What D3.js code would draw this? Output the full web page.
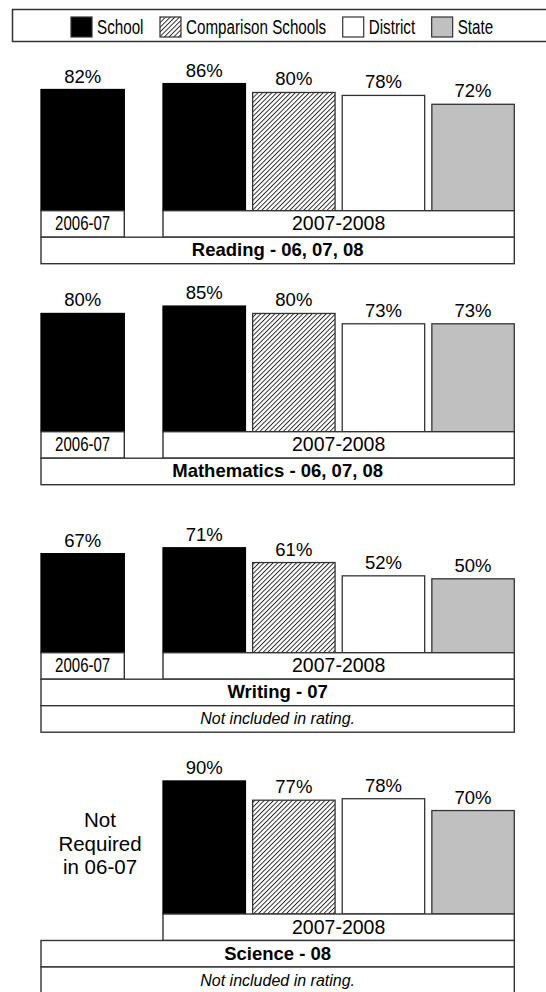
<!DOCTYPE html>
<html>
<head>
<meta charset="utf-8">
<script src="https://cdn.jsdelivr.net/npm/d3@7"></script>
<style>
    body { margin: 0; background: #fff; }
    text { font-family: "Liberation Sans", Arial, sans-serif; fill: #000; }
</style>
</head>
<body>
<script>
// Données
const seriesNames = ["School", "Comparison Schools", "District", "State"];
const subjects = ["Reading - 06, 07, 08", "Mathematics - 06, 07, 08", "Writing - 07", "Science - 08"];
const prior = [82, 80, 67, null];          // School 2006-07
const school = [86, 85, 71, 90];
const comparison = [80, 80, 61, 77];
const district = [78, 73, 52, 78];
const state = [72, 73, 50, 70];
const notes = [null, null, "Not included in rating.", "Not included in rating."];
const yearLabels = ["2006-07", "2007-2008"];
const notRequired = ["Not", "Required", "in 06-07"];

// Mise en page
const width = 546, height = 992;
const baselines = [210.7, 431.7, 652.7, 914];
const rowH = 26.5;
const lineColor = "#333";
const fills = { "School": "#000", "Comparison Schools": "url(#hatch)", "District": "#fff", "State": "#c0c0c0" };

const svg = d3.select('body').append('svg')
    .attr('width', width)
    .attr('height', height);

// Motif hachuré
const hs = 3.3;
const pattern = svg.append('defs').append('pattern')
    .attr('id', 'hatch')
    .attr('patternUnits', 'userSpaceOnUse')
    .attr('width', hs)
    .attr('height', hs)
    .attr('patternTransform', 'rotate(45)');
pattern.append('rect').attr('width', hs).attr('height', hs).attr('fill', '#fff');
pattern.append('line')
    .attr('x1', 0.5).attr('y1', 0).attr('x2', 0.5).attr('y2', hs)
    .attr('stroke', '#000').attr('stroke-width', 0.8);

// Compresser horizontalement un texte, renvoie la largeur finale
function squeeze(sel, f) {
    let w = 0;
    sel.each(function() {
        w = this.getComputedTextLength() * f;
        d3.select(this).attr('textLength', w).attr('lengthAdjust', 'spacingAndGlyphs');
    });
    return w;
}

// Échelles X
const x06 = d3.scaleBand().domain([yearLabels[0]]).range([41, 124.3]).padding(0);
const x07 = d3.scaleBand().domain(seriesNames).range([163, 514.3]).paddingInner(0.08).paddingOuter(0);
const left = x06.range()[0], right = x07.range()[1];

// Légende
const legend = svg.append('g');
legend.append('rect')
    .attr('x', 12.5).attr('y', 9.5)
    .attr('width', 545).attr('height', 32)
    .attr('fill', '#fff').attr('stroke', lineColor).attr('stroke-width', 1.5);
let lx = 71;
seriesNames.forEach(name => {
    legend.append('rect')
        .attr('x', lx).attr('y', 17)
        .attr('width', 21).attr('height', 20)
        .attr('fill', fills[name])
        .attr('stroke', lineColor).attr('stroke-width', 1.2);
    const t = legend.append('text')
        .attr('x', lx + 26).attr('y', 33.5)
        .attr('font-size', 20)
        .text(name);
    const w = squeeze(t, 0.76);
    lx = lx + 26 + w + 16.5;
});

// Panneaux
subjects.forEach((subject, i) => {
    const base = baselines[i];
    const y = d3.scaleLinear().domain([0, 100]).range([base, base - 147.8]);
    const g = svg.append('g');

    const values = seriesNames.map((name, j) => ({ name, value: [school, comparison, district, state][j][i] }));

    // Barres 2007-2008
    g.selectAll('.bar')
        .data(values)
        .enter()
        .append('rect')
        .attr('class', 'bar')
        .attr('x', d => x07(d.name))
        .attr('y', d => y(d.value))
        .attr('width', x07.bandwidth())
        .attr('height', d => y(0) - y(d.value))
        .attr('fill', d => fills[d.name])
        .attr('stroke', d => d.name === "School" ? "#000" : lineColor)
        .attr('stroke-width', 1.3);

    g.selectAll('.val')
        .data(values)
        .enter()
        .append('text')
        .attr('class', 'val')
        .attr('x', d => x07(d.name) + x07.bandwidth() / 2)
        .attr('y', d => y(d.value) - 7)
        .attr('text-anchor', 'middle')
        .attr('font-size', 18.5)
        .text(d => d.value + "%");

    // Barre 2006-07 ou texte "Not Required"
    if (prior[i] !== null) {
        g.append('rect')
            .attr('x', x06(yearLabels[0]))
            .attr('y', y(prior[i]))
            .attr('width', x06.bandwidth())
            .attr('height', y(0) - y(prior[i]))
            .attr('fill', '#000')
            .attr('stroke', '#000')
            .attr('stroke-width', 1.3);
        g.append('text')
            .attr('x', x06(yearLabels[0]) + x06.bandwidth() / 2)
            .attr('y', y(prior[i]) - 7)
            .attr('text-anchor', 'middle')
            .attr('font-size', 18.5)
            .text(prior[i] + "%");

        g.append('rect')
            .attr('x', x06(yearLabels[0])).attr('y', base)
            .attr('width', x06.bandwidth()).attr('height', rowH)
            .attr('fill', '#fff').attr('stroke', lineColor).attr('stroke-width', 1.4);
        const t = g.append('text')
            .attr('x', x06(yearLabels[0]) + x06.bandwidth() / 2)
            .attr('y', base + 19.5)
            .attr('text-anchor', 'middle')
            .attr('font-size', 19.5)
            .text(yearLabels[0]);
        squeeze(t, 0.77);
    } else {
        g.selectAll('.nr')
            .data(notRequired)
            .enter()
            .append('text')
            .attr('x', 100)
            .attr('y', (d, k) => base - 86.7 + k * 23.5)
            .attr('text-anchor', 'middle')
            .attr('font-size', 20.5)
            .text(d => d);
    }

    // Ligne des années 2007-2008
    g.append('rect')
        .attr('x', x07.range()[0]).attr('y', base)
        .attr('width', right - x07.range()[0]).attr('height', rowH)
        .attr('fill', '#fff').attr('stroke', lineColor).attr('stroke-width', 1.4);
    g.append('text')
        .attr('x', (x07.range()[0] + right) / 2)
        .attr('y', base + 19.5)
        .attr('text-anchor', 'middle')
        .attr('font-size', 19.5)
        .text(yearLabels[1]);

    // Titre
    g.append('rect')
        .attr('x', left).attr('y', base + rowH)
        .attr('width', right - left).attr('height', rowH)
        .attr('fill', '#fff').attr('stroke', lineColor).attr('stroke-width', 1.4);
    g.append('text')
        .attr('x', (left + right) / 2)
        .attr('y', base + rowH + 19)
        .attr('text-anchor', 'middle')
        .attr('font-size', 18.5)
        .attr('font-weight', 'bold')
        .text(subject);

    // Note
    if (notes[i]) {
        g.append('rect')
            .attr('x', left).attr('y', base + 2 * rowH)
            .attr('width', right - left).attr('height', rowH)
            .attr('fill', '#fff').attr('stroke', lineColor).attr('stroke-width', 1.4);
        g.append('text')
            .attr('x', (left + right) / 2)
            .attr('y', base + 2 * rowH + 18.5)
            .attr('text-anchor', 'middle')
            .attr('font-size', 16)
            .attr('font-style', 'italic')
            .text(notes[i]);
    }
});
</script>
</body>
</html>
